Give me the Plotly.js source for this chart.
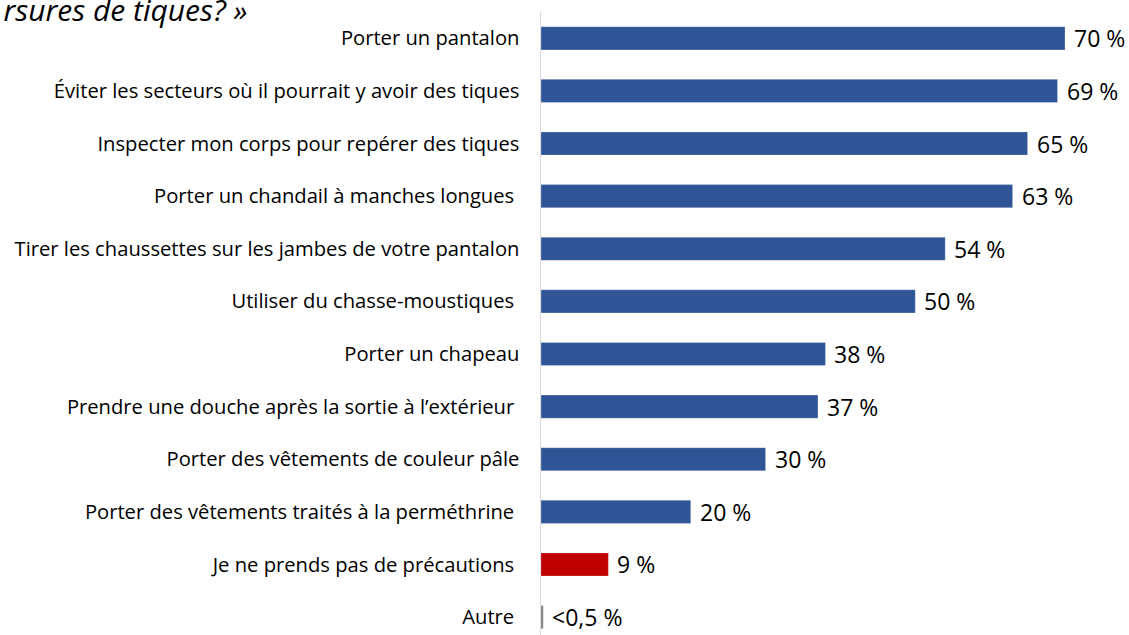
<!DOCTYPE html>
<html><head><meta charset="utf-8">
<script src="https://cdn.plot.ly/plotly-3.0.1.min.js"></script>
<style>html,body{margin:0;padding:0;background:#fff;}#chart{width:1129px;height:635px;}</style>
</head><body><div id="chart"></div>
<script>
const categories = [
  "Porter un pantalon",
  "Éviter les secteurs où il pourrait y avoir des tiques",
  "Inspecter mon corps pour repérer des tiques",
  "Porter un chandail à manches longues\u00a0",
  "Tirer les chaussettes sur les jambes de votre pantalon",
  "Utiliser du chasse-moustiques\u00a0",
  "Porter un chapeau",
  "Prendre une douche après la sortie à l’extérieur\u00a0",
  "Porter des vêtements de couleur pâle",
  "Porter des vêtements traités à la perméthrine\u00a0",
  "Je ne prends pas de précautions\u00a0",
  "Autre\u00a0"
];
const values = [70, 69, 65, 63, 54, 50, 38, 37, 30, 20, 9, 0.3];
const valueLabels = ["70 %","69 %","65 %","63 %","54 %","50 %","38 %","37 %","30 %","20 %","9 %","<0,5 %"];
const barColors = ["#2F5597","#2F5597","#2F5597","#2F5597","#2F5597","#2F5597","#2F5597","#2F5597","#2F5597","#2F5597","#C00000","#7F7F7F"];

const trace = {
  type: 'bar', orientation: 'h',
  y: categories, x: values,
  marker: {color: barColors, line: {color: 'rgba(255,255,255,0.25)', width: 1}},
  hoverinfo: 'none'
};

const annotations = categories.map((c, i) => ({
  x: values[i], y: c, xref: 'x', yref: 'y',
  text: valueLabels[i], showarrow: false,
  xanchor: 'left', yanchor: 'middle', xshift: 7,
  font: {family: 'Open Sans', size: 23, color: '#000'}
}));

const layout = {
  width: 1129, height: 635,
  margin: {l: 541, r: 0, t: 12, b: 0},
  paper_bgcolor: '#fff', plot_bgcolor: '#fff',
  showlegend: false,
  bargap: 0.56,
  title: {
    text: '<i>rsures de tiques? »</i>',
    x: 0.003, xref: 'container', xanchor: 'left',
    y: 1, yref: 'container', yanchor: 'top',
    pad: {t: 0, l: 0},
    font: {family: 'Open Sans', size: 30, color: '#000'}
  },
  xaxis: {range: [0, 78.55], showgrid: false, zeroline: false, showticklabels: false, ticks: '', showline: false, fixedrange: true},
  yaxis: {
    type: 'category', range: [11.34, -0.5],
    showgrid: false, zeroline: false, ticks: '', ticklabelstandoff: 16,
    showline: true, linecolor: '#D9D9D9', linewidth: 1.5,
    tickfont: {family: 'Open Sans', size: 20.2, color: '#000'}
  },
  annotations: annotations
};

Plotly.newPlot('chart', [trace], layout, {displayModeBar: false, staticPlot: true});
</script>
</body></html>
